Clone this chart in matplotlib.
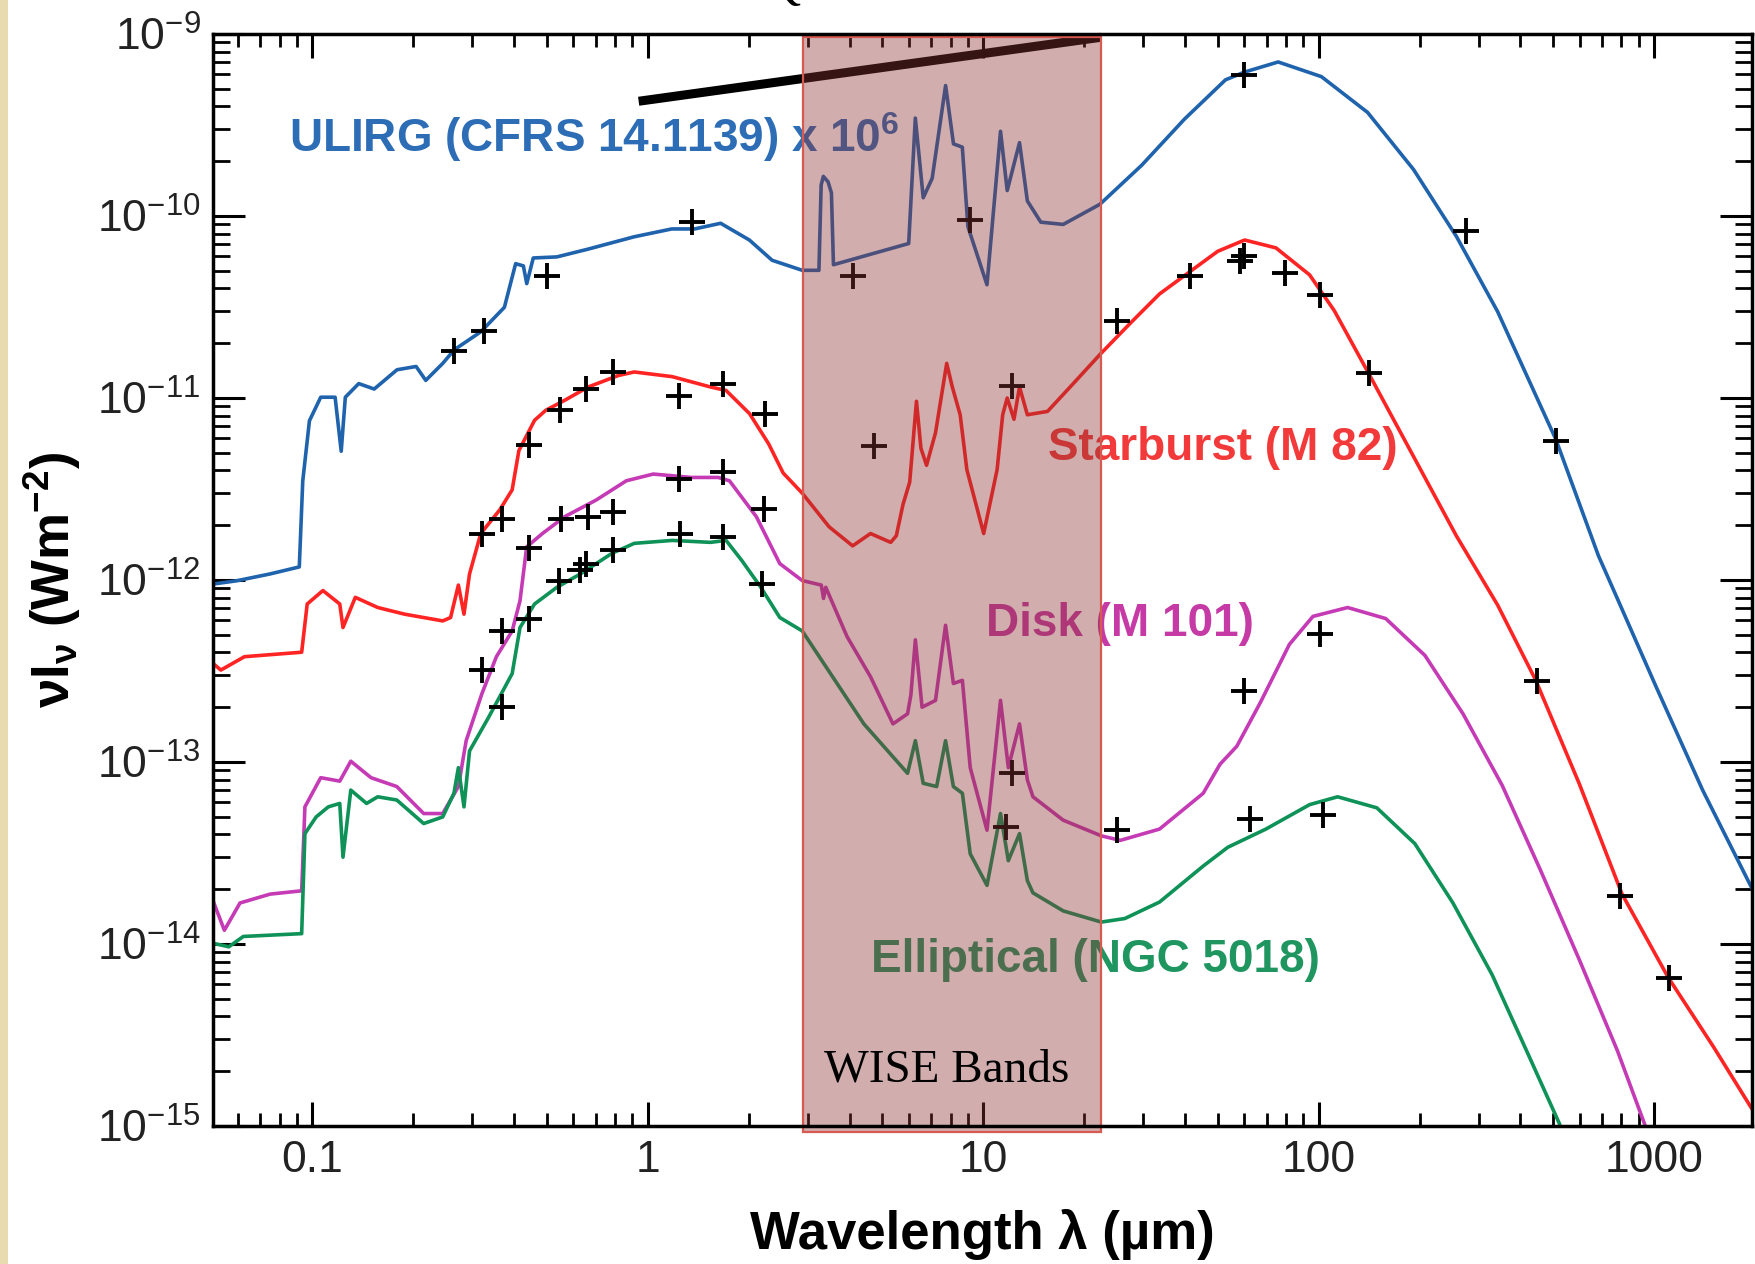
import numpy as np
import matplotlib
matplotlib.use("Agg")
import matplotlib.pyplot as plt
from matplotlib.patches import Rectangle
from matplotlib.ticker import FixedLocator, LogLocator, NullFormatter, FuncFormatter

plt.rcParams['font.family'] = ['Liberation Sans', 'DejaVu Sans']
plt.rcParams['mathtext.fontset'] = 'custom'
plt.rcParams['mathtext.rm'] = 'Liberation Sans'
plt.rcParams['mathtext.it'] = 'Liberation Sans:italic'
plt.rcParams['mathtext.bf'] = 'Liberation Sans:bold'

# model SEDs, wavelength in micron, nu*I_nu in W m^-2
ulirg_wave = [0.0506, 0.0595, 0.0749, 0.0915, 0.0937, 0.0981, 0.106, 0.117, 0.122, 0.1255,
              0.1376, 0.153, 0.179, 0.204, 0.218, 0.245, 0.265, 0.318, 0.374, 0.404,
              0.426, 0.436, 0.456, 0.536, 0.665, 0.912, 1.18, 1.38, 1.65, 2.01,
              2.35, 2.89, 3.24, 3.29, 3.34, 3.45, 3.53, 3.58, 6.0, 6.28,
              6.63, 7.05, 7.73, 8.16, 8.67, 9.01, 10.27, 11.27, 11.8, 12.84,
              13.55, 14.86, 17.33, 22.3, 29.7, 39.8, 52.8, 60.2, 75.8, 102,
              140, 192, 258, 342, 510, 683, 767, 1012, 1397, 1960]
ulirg_flux = [9.5e-13, 9.9e-13, 1.08e-12, 1.18e-12, 3.5e-12, 7.5e-12, 1.01e-11, 1.01e-11, 5.1e-12, 1.01e-11,
              1.2e-11, 1.12e-11, 1.43e-11, 1.49e-11, 1.25e-11, 1.55e-11, 1.84e-11, 2.31e-11, 3.15e-11, 5.47e-11,
              5.32e-11, 4.25e-11, 5.88e-11, 5.96e-11, 6.58e-11, 7.69e-11, 8.49e-11, 8.49e-11, 9.12e-11, 7.38e-11,
              5.71e-11, 5.03e-11, 5.03e-11, 1.48e-10, 1.65e-10, 1.54e-10, 1.34e-10, 5.4e-11, 7.06e-11, 3.45e-10,
              1.26e-10, 1.61e-10, 5.21e-10, 2.49e-10, 2.39e-10, 8.74e-11, 4.19e-11, 2.92e-10, 1.38e-10, 2.53e-10,
              1.21e-10, 9.25e-11, 8.99e-11, 1.16e-10, 1.9e-10, 3.4e-10, 5.6e-10, 6.18e-10, 7.02e-10, 5.83e-10,
              3.71e-10, 1.8e-10, 7.69e-11, 2.98e-11, 5.92e-12, 1.36e-12, 8.38e-13, 2.62e-13, 7.0e-14, 2.02e-14]

starburst_wave = [0.0506, 0.0534, 0.0628, 0.093, 0.0966, 0.1076, 0.1208, 0.1235, 0.1344, 0.1568,
                  0.1885, 0.2449, 0.2585, 0.2727, 0.2834, 0.2944, 0.318, 0.3624, 0.3945, 0.4131,
                  0.46, 0.4968, 0.5662, 0.665, 0.8187, 0.912, 1.184, 1.538, 1.713, 2.013,
                  2.294, 2.535, 2.889, 3.474, 4.083, 4.617, 5.303, 5.511, 5.77, 6.042,
                  6.329, 6.527, 6.782, 7.213, 7.789, 8.094, 8.543, 8.945, 10.04, 11.01,
                  11.44, 11.8, 12.36, 12.84, 13.55, 15.56, 18.57, 22.34, 27.49, 33.57,
                  41.01, 50.07, 60.22, 74.66, 94.04, 111.4, 140.3, 187.8, 257.5, 342.1,
                  444.3, 599.8, 803.3, 1101, 1509, 1960]
starburst_flux = [3.48e-13, 3.2e-13, 3.79e-13, 4.01e-13, 7.38e-13, 8.75e-13, 7.38e-13, 5.48e-13, 8.03e-13, 7.06e-13,
                  6.49e-13, 5.96e-13, 6.22e-13, 9.38e-13, 6.49e-13, 1.08e-12, 1.8e-12, 2.43e-12, 3.13e-12, 5.14e-12,
                  7.54e-12, 8.56e-12, 9.72e-12, 1.15e-11, 1.33e-11, 1.39e-11, 1.31e-11, 1.15e-11, 1.1e-11, 8.2e-12,
                  5.6e-12, 3.87e-12, 3.0e-12, 1.96e-12, 1.54e-12, 1.8e-12, 1.61e-12, 1.75e-12, 2.6e-12, 3.45e-12,
                  9.59e-12, 5.29e-12, 4.27e-12, 6.44e-12, 1.55e-11, 1.15e-11, 8.09e-12, 4.04e-12, 1.8e-12, 4.04e-12,
                  8.09e-12, 1.0e-11, 7.64e-12, 1.15e-11, 8.09e-12, 8.44e-12, 1.2e-11, 1.74e-11, 2.58e-11, 3.73e-11,
                  4.89e-11, 6.4e-11, 7.38e-11, 6.68e-11, 4.75e-11, 3.02e-11, 1.39e-11, 5.14e-12, 1.75e-12, 7.27e-13,
                  2.81e-13, 7.54e-14, 1.88e-14, 6.58e-15, 2.7e-15, 1.24e-15]

disk_wave = [0.0506, 0.0547, 0.0609, 0.0749, 0.093, 0.0951, 0.106, 0.1208, 0.1303, 0.1497,
             0.1787, 0.2149, 0.2449, 0.2727, 0.2877, 0.3204, 0.354, 0.3945, 0.4163, 0.4358,
             0.4855, 0.5662, 0.7022, 0.8641, 1.039, 1.35, 1.623, 1.753, 2.108, 2.477,
             2.889, 3.293, 3.344, 3.396, 3.929, 4.617, 5.386, 5.953, 6.092, 6.281,
             6.577, 7.213, 7.728, 8.155, 8.674, 9.154, 10.27, 11.27, 11.89, 12.84,
             13.55, 14.08, 17.33, 22.51, 25.64, 33.57, 45.3, 50.85, 57.06, 67.06,
             81.88, 96.23, 122.1, 158.6, 207.6, 269.6, 352.9, 458.2, 599.8, 778.9, 936.7]
disk_flux = [1.73e-14, 1.19e-14, 1.68e-14, 1.88e-14, 1.96e-14, 5.67e-14, 8.2e-14, 7.85e-14, 1.01e-13, 8.2e-14,
             7.33e-14, 5.21e-14, 5.21e-14, 7.33e-14, 1.31e-13, 2.37e-13, 3.79e-13, 5.25e-13, 7.69e-13, 1.52e-12,
             1.8e-12, 2.23e-12, 2.75e-12, 3.51e-12, 3.82e-12, 3.66e-12, 3.66e-12, 3.51e-12, 2.23e-12, 1.23e-12,
             9.93e-13, 9.38e-13, 7.92e-13, 9.12e-13, 4.89e-13, 2.94e-13, 1.62e-13, 1.84e-13, 2.34e-13, 4.69e-13,
             2.0e-13, 2.18e-13, 5.64e-13, 2.7e-13, 2.81e-13, 9.31e-14, 4.22e-14, 2.18e-13, 9.31e-14, 1.62e-13,
             7.98e-14, 6.44e-14, 4.79e-14, 3.93e-14, 3.71e-14, 4.28e-14, 6.73e-14, 9.72e-14, 1.22e-13, 2.12e-13,
             4.43e-13, 6.31e-13, 7.06e-13, 6.14e-13, 3.85e-13, 1.84e-13, 7.43e-14, 2.56e-14, 8.15e-15, 2.58e-15, 1.03e-15]

ellip_wave = [0.0506, 0.0564, 0.0623, 0.093, 0.0951, 0.1027, 0.1117, 0.1208, 0.1235, 0.1303,
              0.1452, 0.1568, 0.1787, 0.2149, 0.2449, 0.2645, 0.2727, 0.2834, 0.2944, 0.3356,
              0.3945, 0.4163, 0.46, 0.5364, 0.6302, 0.7819, 0.912, 1.184, 1.538, 1.713,
              1.908, 2.174, 2.477, 2.889, 4.41, 5.953, 6.281, 6.629, 7.268, 7.728,
              8.155, 8.674, 9.154, 10.27, 11.27, 11.89, 12.84, 13.55, 14.08, 17.33,
              22.51, 26.45, 33.57, 45.3, 53.65, 69.67, 94.04, 114.0, 149.2, 193.7,
              251.6, 329.2, 427.6, 522.5]
ellip_flux = [1.01e-14, 9.65e-15, 1.1e-14, 1.14e-14, 4.04e-14, 4.99e-14, 5.67e-14, 5.92e-14, 3.0e-14, 7.01e-14,
              5.92e-14, 6.44e-14, 6.18e-14, 4.59e-14, 4.99e-14, 6.73e-14, 9.31e-14, 5.67e-14, 1.15e-13, 1.76e-13,
              3.06e-13, 5.48e-13, 7.38e-13, 9.12e-13, 1.08e-12, 1.4e-12, 1.59e-12, 1.65e-12, 1.61e-12, 1.65e-12,
              1.28e-12, 9.12e-13, 6.22e-13, 5.25e-13, 1.62e-13, 8.67e-14, 1.31e-13, 7.64e-14, 7.33e-14, 1.31e-13,
              7.33e-14, 6.73e-14, 3.13e-14, 2.1e-14, 5.21e-14, 2.87e-14, 4.04e-14, 2.23e-14, 1.91e-14, 1.52e-14,
              1.32e-14, 1.38e-14, 1.7e-14, 2.68e-14, 3.4e-14, 4.28e-14, 5.83e-14, 6.44e-14, 5.6e-14, 3.56e-14,
              1.68e-14, 6.78e-15, 2.34e-15, 1.03e-15]

# photometry (the + marks)
ulirg_phot_wave = [0.2645, 0.3254, 0.5006, 1.36, 4.083, 9.154, 59.76, 275.9, 510.5]
ulirg_phot_flux = [1.81e-11, 2.34e-11, 4.69e-11, 9.25e-11, 4.69e-11, 9.52e-11, 5.92e-10, 8.26e-11, 5.83e-12]
starburst_phot_wave = [0.3204, 0.368, 0.4426, 0.549, 0.6552, 0.788, 1.24, 1.674, 2.242, 4.726,
                       12.17, 25.06, 41.3, 58.4, 59.76, 79.4, 100.8, 141.3, 447.8, 791, 1109]
starburst_phot_flux = [1.8e-12, 2.16e-12, 5.52e-12, 8.56e-12, 1.12e-11, 1.39e-11, 1.03e-11, 1.2e-11, 8.2e-12, 5.43e-12,
                       1.17e-11, 2.66e-11, 4.69e-11, 5.64e-11, 6.05e-11, 4.89e-11, 3.68e-11, 1.37e-11, 2.77e-13, 1.83e-14, 6.48e-15]
disk_phot_wave = [0.3204, 0.368, 0.4426, 0.5533, 0.665, 0.788, 1.24, 1.674, 2.225, 12.17, 25.06, 59.76, 100.8]
disk_phot_flux = [3.2e-13, 5.25e-13, 1.5e-12, 2.16e-12, 2.23e-12, 2.35e-12, 3.61e-12, 3.93e-12, 2.46e-12,
                  8.67e-14, 4.22e-14, 2.44e-13, 5.04e-13]
ellip_phot_wave = [0.368, 0.4426, 0.5448, 0.6302, 0.6552, 0.788, 1.25, 1.674, 2.191, 11.7, 62.6, 103.1]
ellip_phot_flux = [2.0e-13, 6.14e-13, 9.93e-13, 1.13e-12, 1.23e-12, 1.46e-12, 1.8e-12, 1.73e-12, 9.52e-13,
                   4.4e-14, 4.86e-14, 5.14e-14]

# WISE band window and the pointer line
wise_band = [2.9, 22.5]
wise_flux_range = [9.3e-16, 9.6e-10]
pointer_wave = [0.94, 22.5]
pointer_flux = [4.27e-10, 9.6e-10]

x_ticks = [0.1, 1, 10, 100, 1000]
x_tick_labels = ["0.1", "1", "10", "100", "1000"]
y_ticks = [1e-15, 1e-14, 1e-13, 1e-12, 1e-11, 1e-10, 1e-9]

series = [
    (ulirg_wave, ulirg_flux, ulirg_phot_wave, ulirg_phot_flux, "#1f63ad"),
    (starburst_wave, starburst_flux, starburst_phot_wave, starburst_phot_flux, "#ff2424"),
    (disk_wave, disk_flux, disk_phot_wave, disk_phot_flux, "#c53bb6"),
    (ellip_wave, ellip_flux, ellip_phot_wave, ellip_phot_flux, "#0e9258"),
]

fig = plt.figure(figsize=(17.56, 12.64), dpi=100)
fig.patch.set_facecolor("white")
# parchment strip on the left edge
fig.patches.append(Rectangle((0, 0), 8 / 1756, 1, transform=fig.transFigure,
                             facecolor="#e8dbb0", edgecolor="none", zorder=0))

ax = fig.add_axes([213 / 1756, 138 / 1264, 1539 / 1756, 1092 / 1264])
ax.set_xscale("log")
ax.set_yscale("log")
ax.set_xlim(0.0506, 1960)
ax.set_ylim(1e-15, 1e-9)

for wave, flux, pw, pf, col in series:
    ax.plot(wave, flux, color=col, lw=2.6, zorder=2, solid_joinstyle="round")
    ax.plot(pw, pf, ls="none", marker="+", ms=19, mew=2.8, color="black", zorder=3)

# curve labels
ax.text(0.0854, 2.72e-10, r"ULIRG (CFRS 14.1139) x 10$^{\mathbf{6}}$", color="#2c6db6",
        fontsize=33, fontweight="bold", ha="left", va="center", zorder=3)
ax.text(15.56, 5.29e-12, "Starburst (M 82)", color="#f23a3a",
        fontsize=33, fontweight="bold", ha="left", va="center", zorder=3)
ax.text(10.19, 5.71e-13, "Disk (M 101)", color="#c63aa6",
        fontsize=33, fontweight="bold", ha="left", va="center", zorder=3)
ax.text(4.617, 8.15e-15, "Elliptical (NGC 5018)", color="#1f9660",
        fontsize=33, fontweight="bold", ha="left", va="center", zorder=3)

# black pointer line, under the translucent band
ax.plot(pointer_wave, pointer_flux, color="black", lw=6.5, solid_capstyle="butt",
        zorder=4, clip_on=False)

band = Rectangle((wise_band[0], wise_flux_range[0]), wise_band[1] - wise_band[0],
                 wise_flux_range[1] - wise_flux_range[0], facecolor=(0.55, 0.2, 0.2),
                 alpha=0.4, edgecolor="none", zorder=5, clip_on=False)
ax.add_patch(band)
band_edge = Rectangle((wise_band[0], wise_flux_range[0]), wise_band[1] - wise_band[0],
                      wise_flux_range[1] - wise_flux_range[0], fill=False,
                      edgecolor="#d65a50", lw=1.6, zorder=6, clip_on=False)
ax.add_patch(band_edge)
ax.text(7.79, 2.03e-15, "WISE Bands", family=["Liberation Serif", "DejaVu Serif"],
        fontsize=34, color="black", ha="center", va="center", zorder=7)

# axes styling
for sp in ax.spines.values():
    sp.set_linewidth(2.5)
    sp.set_zorder(8)

ax.xaxis.set_major_locator(FixedLocator(x_ticks))
ax.xaxis.set_major_formatter(FuncFormatter(lambda v, p: x_tick_labels[x_ticks.index(v)] if v in x_ticks else ""))
ax.xaxis.set_minor_locator(LogLocator(base=10, subs=np.arange(2, 10), numticks=20))
ax.xaxis.set_minor_formatter(NullFormatter())
ax.yaxis.set_major_locator(FixedLocator(y_ticks))
ax.yaxis.set_major_formatter(FuncFormatter(lambda v, p: r"$10^{%d}$" % round(np.log10(v))))
ax.yaxis.set_minor_locator(LogLocator(base=10, subs=np.arange(2, 10), numticks=20))
ax.yaxis.set_minor_formatter(NullFormatter())

ax.tick_params(axis="x", which="major", direction="in", length=17, width=2.2, top=True,
               labelsize=32, pad=10, labelcolor="#222222")
ax.tick_params(axis="x", which="minor", direction="in", length=9.5, width=2.0, top=True)
ax.tick_params(axis="y", which="major", direction="in", length=23, width=2.2, right=True,
               labelsize=32, pad=9, labelcolor="#222222")
ax.tick_params(axis="y", which="minor", direction="in", length=12, width=2.0, right=True)

ax.set_xlabel("Wavelength λ (µm)", fontsize=38, fontweight="bold", labelpad=20)
ax.set_ylabel(r"$\mathbf{\nu I_{\nu}}$ (Wm$^{\mathbf{-2}}$)", fontsize=38, fontweight="bold", labelpad=10)

# heading that sits mostly above the top edge; only its lowest strokes show
fig.text(767 / 1756, 1 + 1 / 1264, "QSO Bandwidths", family=["Liberation Serif", "DejaVu Serif"],
         fontsize=34, ha="left", va="baseline")

fig.savefig("out.png", dpi=100)
